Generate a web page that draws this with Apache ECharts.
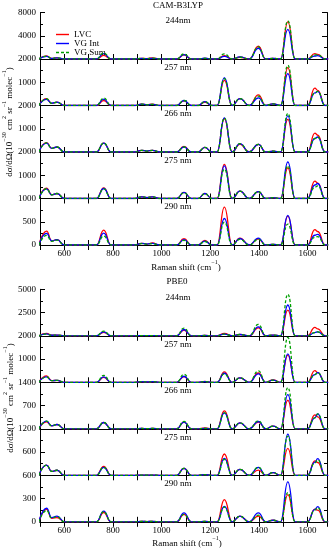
<!DOCTYPE html>
<html><head><meta charset="utf-8">
<script src="https://cdn.jsdelivr.net/npm/echarts@6/dist/echarts.min.js"></script>
<style>html,body{margin:0;padding:0;background:#fff}#c{width:335px;height:550px}</style>
</head><body><div id="c"></div>
<script>
// Raman shift grid (cm^-1)
const shiftX = [495,527,548,570,600,732,762,792,890,918,940,962,992,1062,1092,1122,1150,1178,1206,1228,1258,1290,1322,1360,1398,1428,1458,1489,1519,1549,1600,1630,1642,1672,1685];
const seriesNames = ['LVC','VG Int','VG Sum'];
const panelLabels = ['244nm','257 nm','266 nm','275 nm','290 nm'];
const camMax = [8000,2000,2000,2000,1000];
const pbeMax = [5000,2000,1400,1200,600];
const camLVC = [
 [0,550,100,200,0, 0,630,0, 0,120,60,200,0, 0,700,0, 0,100,0, 0,580,0,300,0,2190,0,100,0,6400,0, 0,920,800,0,0],
 [0,290,90,145,0, 0,215,0, 0,60,30,60,0, 0,200,0, 0,150,0, 0,1080,0,300,0,460,0,70,0,1630,0, 0,750,650,0,0],
 [0,400,160,215,0, 0,385,0, 0,70,40,70,0, 0,245,0, 0,200,0, 0,1430,0,340,0,330,0,40,0,1400,0, 0,815,720,0,0],
 [0,440,160,215,0, 0,460,0, 0,70,40,70,0, 0,260,0, 0,215,0, 0,1470,0,315,0,300,0,40,0,1320,0, 0,745,660,0,0],
 [0,300,90,115,0, 0,320,0, 0,35,20,45,0, 0,135,0, 0,100,0, 0,814,0,150,0,130,0,15,0,620,0, 0,330,290,0,0]
];
const camInt = [
 [0,450,100,200,0, 0,920,0, 0,100,50,120,0, 0,750,0, 0,150,0, 0,460,0,350,0,1850,0,100,0,5100,0, 0,520,580,0,0],
 [0,260,100,145,0, 0,275,0, 0,60,30,50,0, 0,215,0, 0,170,0, 0,1195,0,300,0,330,0,70,0,1370,0, 0,540,605,0,0],
 [0,380,160,215,0, 0,385,0, 0,70,40,70,0, 0,215,0, 0,200,0, 0,1470,0,360,0,330,0,40,0,1550,0, 0,580,645,0,0],
 [0,415,160,215,0, 0,430,0, 0,70,40,70,0, 0,260,0, 0,215,0, 0,1400,0,315,0,300,0,40,0,1570,0, 0,580,645,0,0],
 [0,250,90,115,0, 0,257,0, 0,35,20,35,0, 0,115,0, 0,85,0, 0,570,0,140,0,150,0,15,0,635,0, 0,210,230,0,0]
];
const camSum = [
 [0,500,100,200,0, 0,1040,0, 0,100,50,150,0, 0,870,0, 0,120,0, 0,870,0,300,0,2080,0,100,0,6550,0, 0,700,750,0,0],
 [0,290,90,140,0, 0,317,0, 0,60,30,50,0, 0,215,0, 0,160,0, 0,1150,0,300,0,400,0,70,0,1730,0, 0,540,605,0,0],
 [0,390,160,215,0, 0,385,0, 0,70,40,70,0, 0,215,0, 0,200,0, 0,1460,0,360,0,330,0,40,0,1660,0, 0,580,645,0,0],
 [0,420,160,215,0, 0,410,0, 0,70,40,70,0, 0,250,0, 0,210,0, 0,1260,0,315,0,290,0,40,0,1400,0, 0,490,545,0,0],
 [0,207,80,105,0, 0,193,0, 0,30,15,30,0, 0,100,0, 0,75,0, 0,490,0,120,0,120,0,15,0,450,0, 0,165,180,0,0]
];
const pbeLVC = [
 [0,250,60,80,0, 0,360,0, 0,20,10,20,0, 0,610,0, 0,40,0, 0,250,0,140,0,860,0,70,0,2770,0, 0,900,750,0,0],
 [0,275,70,85,0, 0,215,0, 0,30,15,30,0, 0,245,0, 0,40,0, 0,445,0,190,0,400,0,100,0,1165,0, 0,505,420,0,0],
 [0,210,90,130,0, 0,190,0, 0,10,5,10,0, 0,200,0, 0,30,0, 0,540,0,180,0,200,0,80,0,860,0, 0,420,360,0,0],
 [0,265,100,130,0, 0,230,0, 0,5,3,5,0, 0,180,0, 0,20,0, 0,550,0,155,0,135,0,70,0,695,0, 0,370,330,0,0],
 [0,160,45,55,0, 0,120,0, 0,5,3,5,0, 0,95,0, 0,5,0, 0,287,0,73,0,73,0,20,0,350,0, 0,163,150,0,0]
];
const pbeInt = [
 [0,200,60,80,0, 0,430,0, 0,20,10,20,0, 0,680,0, 0,30,0, 0,180,0,140,0,970,0,70,0,3310,0, 0,350,430,0,0],
 [0,230,70,85,0, 0,230,0, 0,30,15,30,0, 0,260,0, 0,30,0, 0,390,0,190,0,360,0,90,0,1225,0, 0,330,415,0,0],
 [0,230,90,130,0, 0,190,0, 0,10,5,10,0, 0,200,0, 0,15,0, 0,480,0,180,0,220,0,80,0,1030,0, 0,330,450,0,0],
 [0,265,100,130,0, 0,205,0, 0,5,3,5,0, 0,180,0, 0,15,0, 0,435,0,155,0,205,0,70,0,1060,0, 0,340,430,0,0],
 [0,175,55,73,0, 0,137,0, 0,5,3,5,0, 0,115,0, 0,5,0, 0,200,0,73,0,115,0,20,0,515,0, 0,160,197,0,0]
];
const pbeSum = [
 [0,200,60,80,0, 0,500,0, 0,20,10,20,0, 0,830,0, 0,30,0, 0,180,0,140,0,1220,0,70,0,4460,0, 0,350,430,0,0],
 [0,230,70,85,0, 0,300,0, 0,30,15,30,0, 0,345,0, 0,30,0, 0,360,0,190,0,490,0,90,0,1930,0, 0,330,415,0,0],
 [0,230,90,130,0, 0,190,0, 0,10,5,10,0, 0,220,0, 0,15,0, 0,480,0,180,0,240,0,80,0,1240,0, 0,330,450,0,0],
 [0,265,100,130,0, 0,205,0, 0,5,3,5,0, 0,180,0, 0,15,0, 0,410,0,155,0,205,0,70,0,1010,0, 0,320,395,0,0],
 [0,145,50,65,0, 0,130,0, 0,5,3,5,0, 0,95,0, 0,5,0, 0,190,0,73,0,85,0,20,0,377,0, 0,150,180,0,0]
];

const FONT = "'Liberation Serif','DejaVu Serif',serif";
const colors = ['#ff0000','#0000ff','#00a000'];
const lineTypes = ['solid','solid',[3,2]];
const legendIcons = ['path://M0,0h13v1.4h-13z','path://M0,0h13v1.4h-13z','path://M0,0h3v1.4h-3z M5,0h3v1.4h-3z M10,0h3v1.4h-3z'];
const grids=[], xAxes=[], yAxes=[], series=[], graphics=[];
const PH = 46.5, LEFT = 40, RIGHT = 8;
function addFigure(tops0, maxes, sets){
  for(let i=0;i<5;i++){
    const g = grids.length;
    const top = tops0 + i*PH;
    grids.push({left:LEFT, right:RIGHT, top:top, height:PH});
    const isLast = i===4;
    const axLine = {show:true, lineStyle:{color:'#000', width:1}};
    xAxes.push({gridIndex:g, type:'value', min:500, max:1680, interval:100, position:'bottom',
      axisLine:axLine, axisTick:{show:true, inside:true, length:5, lineStyle:{color:'#000'}},
      splitLine:{show:false},
      axisLabel:{show:isLast, margin:4, fontSize:9, fontFamily:FONT, color:'#000',
        formatter:v=> (v%200===0 && v>500) ? String(v) : ''}});
    xAxes.push({gridIndex:g, type:'value', min:500, max:1680, interval:100, position:'top',
      axisLine:axLine, axisTick:{show:true, inside:true, length:5, lineStyle:{color:'#000'}},
      splitLine:{show:false}, axisLabel:{show:false}});
    const M = maxes[i];
    yAxes.push({gridIndex:g, type:'value', min:0, max:M, interval:M/2, position:'left',
      axisLine:axLine, axisTick:{show:true, inside:true, length:5, lineStyle:{color:'#000'}},
      minorTick:{show:true, splitNumber:2, length:3, lineStyle:{color:'#000'}},
      splitLine:{show:false},
      axisLabel:{margin:4, fontSize:9, fontFamily:FONT, color:'#000',
        formatter:v=> (v===0 && !isLast) ? '' : String(v)}});
    yAxes.push({gridIndex:g, type:'value', min:0, max:M, interval:M/2, position:'right',
      axisLine:axLine, axisTick:{show:true, inside:true, length:5, lineStyle:{color:'#000'}},
      minorTick:{show:true, splitNumber:2, length:3, lineStyle:{color:'#000'}},
      splitLine:{show:false}, axisLabel:{show:false}});
    for(let s=0;s<3;s++){
      const arr = sets[s][i];
      series.push({type:'line', name:seriesNames[s], xAxisIndex:2*g, yAxisIndex:2*g,
        data: shiftX.map((x,k)=>[x, arr[k]]),
        symbol:'none', showSymbol:false, smooth:0.5, smoothMonotone:'x', clip:true,
        lineStyle:{color:colors[s], width:1.3, type:lineTypes[s]}, itemStyle:{color:colors[s]},
        z: 2+s});
    }
    graphics.push({type:'text', x:178, y:top+8.5, z:10, style:{text:panelLabels[i], fontSize:9, fontFamily:FONT, fill:'#000', align:'center', verticalAlign:'middle'}});
  }
}
addFigure(12.5, camMax, [camLVC, camInt, camSum]);
addFigure(289.3, pbeMax, [pbeLVC, pbeInt, pbeSum]);

const rich = {n:{fontSize:9, fontFamily:FONT, lineHeight:13, verticalAlign:'bottom', fill:'#000', color:'#000'},
              s:{fontSize:6, fontFamily:FONT, lineHeight:13, verticalAlign:'top', fill:'#000', color:'#000'}};
const yTitle = '{n|dσ/dΩ(10}{s|−30}{n| cm}{s|2}{n| sr}{s|−1}{n| molec}{s|−1}{n|)}';
const xTitle = '{n|Raman shift (cm}{s|−1}{n|)}';
graphics.push({type:'text', x:178, y:6, style:{text:'CAM-B3LYP', fontSize:9, fontFamily:FONT, fill:'#000', align:'center', verticalAlign:'middle'}});
graphics.push({type:'text', x:177, y:282, style:{text:'PBE0', fontSize:9, fontFamily:FONT, fill:'#000', align:'center', verticalAlign:'middle'}});
graphics.push({type:'text', x:186, y:266, style:{text:xTitle, rich:rich, align:'center', verticalAlign:'middle'}});
graphics.push({type:'text', x:187, y:542, style:{text:xTitle, rich:rich, align:'center', verticalAlign:'middle'}});
graphics.push({type:'text', x:8, y:122, rotation:Math.PI/2, style:{text:yTitle, rich:rich, align:'center', verticalAlign:'middle'}});
graphics.push({type:'text', x:9, y:398, rotation:Math.PI/2, style:{text:yTitle, rich:rich, align:'center', verticalAlign:'middle'}});

const chart = echarts.init(document.getElementById('c'), null, {renderer:'canvas'});
chart.setOption({
  animation:false,
  backgroundColor:'#fff',
  grid:grids, xAxis:xAxes, yAxis:yAxes, series:series,
  legend:{data:seriesNames.map((n,k)=>({name:n, icon:legendIcons[k], itemStyle:{color:colors[k]}})),
    orient:'vertical', left:51, top:25, itemWidth:13, itemHeight:2, itemGap:0,
    textStyle:{fontSize:9, lineHeight:8.7, fontFamily:FONT, color:'#000', padding:[0,0,0,0]}, selectedMode:false},
  graphic:graphics
});
</script></body></html>
